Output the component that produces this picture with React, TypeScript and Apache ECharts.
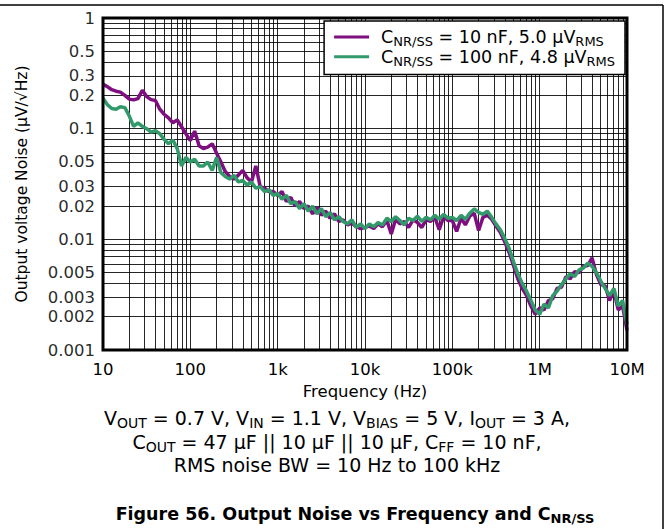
import { useEffect, useRef } from 'react';
import * as echarts from 'echarts';

const FONT = '"DejaVu Sans", "Liberation Sans", Arial, sans-serif';
const PURPLE = '#7f0f80';
const GREEN = '#31996a';

const frequencies = [
  10, 11.2, 12.6, 14.1, 15.8, 17.8, 20, 22.4, 25.1, 28.2, 31.6, 35.5, 39.8, 44.7, 50.1, 56.2, 63.1, 70.8, 79.4, 89.1,
  100, 112, 126, 141, 158, 178, 200, 224, 251, 282, 316, 355, 398, 447, 501, 562, 631, 708, 794, 891,
  1000, 1120, 1260, 1410, 1580, 1780, 2000, 2240, 2510, 2820, 3160, 3550, 3980, 4470, 5010, 5620, 6310, 7080, 7940, 8910,
  10000, 11200, 12600, 14100, 15800, 17800, 20000, 22400, 25100, 28200, 31600, 35500, 39800, 44700, 50100, 56200, 63100, 70800, 79400, 89100,
  100000, 112000, 126000, 141000, 158000, 178000, 200000, 224000, 251000, 282000, 316000, 355000, 398000, 447000, 501000, 562000, 631000, 708000, 794000, 891000,
  1000000, 1120000, 1260000, 1410000, 1580000, 1780000, 2000000, 2240000, 2510000, 2820000, 3160000, 3550000, 3980000, 4470000, 5010000, 5620000, 6310000, 7080000, 7940000, 8910000, 10000000,
];

// C_NR/SS = 10 nF (µV/√Hz)
const noise10nF = [
  0.252, 0.24, 0.225, 0.218, 0.214, 0.2, 0.185, 0.182, 0.187, 0.222, 0.195, 0.183, 0.18, 0.15, 0.135, 0.125, 0.113, 0.12, 0.104, 0.09,
  0.078, 0.095, 0.07, 0.066, 0.068, 0.073, 0.06, 0.05, 0.041, 0.037, 0.035, 0.038, 0.042, 0.036, 0.033, 0.046, 0.03, 0.029, 0.027, 0.027,
  0.025, 0.027, 0.022, 0.024, 0.02, 0.022, 0.019, 0.02, 0.017, 0.0195, 0.0165, 0.018, 0.0155, 0.017, 0.0145, 0.015, 0.0135, 0.014, 0.013, 0.0125,
  0.0128, 0.0132, 0.0125, 0.0138, 0.013, 0.0148, 0.0112, 0.0152, 0.0138, 0.0145, 0.0128, 0.015, 0.0142, 0.0128, 0.015, 0.0145, 0.0158, 0.0122, 0.016, 0.0148,
  0.0148, 0.0118, 0.0155, 0.0135, 0.0162, 0.0172, 0.012, 0.0158, 0.0165, 0.0152, 0.0132, 0.0115, 0.0095, 0.0076, 0.0058, 0.0044, 0.0036, 0.0031, 0.0025, 0.0021,
  0.0024, 0.0023, 0.0028, 0.0029, 0.0036, 0.0037, 0.0046, 0.0044, 0.0051, 0.005, 0.0057, 0.0058, 0.0068, 0.0048, 0.0039, 0.0038, 0.0028, 0.0034, 0.0023, 0.0025, 0.0015,
];

// C_NR/SS = 100 nF (µV/√Hz)
const noise100nF = [
  0.188, 0.165, 0.152, 0.15, 0.158, 0.155, 0.13, 0.105, 0.113, 0.105, 0.1, 0.093, 0.096, 0.09, 0.08, 0.073, 0.079, 0.066, 0.046, 0.055,
  0.05, 0.053, 0.046, 0.046, 0.05, 0.042, 0.055, 0.04, 0.037, 0.035, 0.038, 0.033, 0.034, 0.031, 0.033, 0.029, 0.03, 0.027, 0.028, 0.025,
  0.026, 0.023, 0.025, 0.021, 0.022, 0.019, 0.021, 0.018, 0.02, 0.017, 0.019, 0.016, 0.0175, 0.015, 0.016, 0.0145, 0.0138, 0.015, 0.0128, 0.0138,
  0.0125, 0.0138, 0.013, 0.0142, 0.0135, 0.0155, 0.0145, 0.016, 0.0148, 0.0135, 0.0155, 0.0148, 0.0162, 0.0145, 0.0158, 0.015, 0.0165, 0.0152, 0.0168, 0.0155,
  0.0158, 0.0148, 0.0165, 0.0152, 0.0172, 0.0188, 0.0175, 0.0168, 0.018, 0.0158, 0.0138, 0.0122, 0.0102, 0.0083, 0.0063, 0.0049, 0.004, 0.0034, 0.0028, 0.0023,
  0.0021, 0.0026, 0.0024, 0.0031, 0.0034, 0.0039, 0.0044, 0.0049, 0.0046, 0.0053, 0.0055, 0.0061, 0.0057, 0.005, 0.0042, 0.0036, 0.0031, 0.0036, 0.0025, 0.0028, 0.0017,
];

const seriesNames = ['CNR/SS = 10 nF, 5.0 µVRMS', 'CNR/SS = 100 nF, 4.8 µVRMS'];
const legendRich = [
  '{m|C}{s|NR/SS}{m| = 10 nF, 5.0 µV}{s|RMS}',
  '{m|C}{s|NR/SS}{m| = 100 nF, 4.8 µV}{s|RMS}',
];

const xTickValues = [10, 100, 1000, 10000, 100000, 1000000, 10000000];
const xTickLabels = ['10', '100', '1k', '10k', '100k', '1M', '10M'];
const yTickValues = [1, 0.5, 0.3, 0.2, 0.1, 0.05, 0.03, 0.02, 0.01, 0.005, 0.003, 0.002, 0.001];
const yTickLabels = ['1', '0.5', '0.3', '0.2', '0.1', '0.05', '0.03', '0.02', '0.01', '0.005', '0.003', '0.002', '0.001'];

const xGridValues = [
  20, 30, 40, 50, 60, 70, 80, 90, 100,
  200, 300, 400, 500, 600, 700, 800, 900, 1000,
  2000, 3000, 4000, 5000, 6000, 7000, 8000, 9000, 10000,
  20000, 30000, 40000, 50000, 60000, 70000, 80000, 90000, 100000,
  200000, 300000, 400000, 500000, 600000, 700000, 800000, 900000, 1000000,
  2000000, 3000000, 4000000, 5000000, 6000000, 7000000, 8000000, 9000000,
];
const yGridValues = [
  0.001, 0.002, 0.003, 0.004, 0.005, 0.006, 0.007, 0.008, 0.009,
  0.01, 0.02, 0.03, 0.04, 0.05, 0.06, 0.07, 0.08, 0.09,
  0.1, 0.2, 0.3, 0.4, 0.5, 0.6, 0.7, 0.8, 0.9, 1,
];

const conditionLines = [
  '{m|V}{s|OUT}{m| = 0.7 V, V}{s|IN}{m| = 1.1 V, V}{s|BIAS}{m| = 5 V, I}{s|OUT}{m| = 3 A,}',
  '{m|C}{s|OUT}{m| = 47 µF || 10 µF || 10 µF, C}{s|FF}{m| = 10 nF,}',
  '{m|RMS noise BW = 10 Hz to 100 kHz}',
];
const captionText = '{m|Figure 56. Output Noise vs Frequency and C}{s|NR/SS}';

const GRID = { left: 103, top: 18, width: 524, height: 332 };

function makeRich(main: number, sub: number, bold: boolean) {
  const w = bold ? 'bold' : 'normal';
  return {
    m: { fontSize: main, lineHeight: main + 4, fontFamily: FONT, fontWeight: w, color: '#000', fill: '#000' },
    s: { fontSize: sub, lineHeight: sub, fontFamily: FONT, fontWeight: w, color: '#000', fill: '#000', verticalAlign: 'bottom' },
  };
}
const richLegend = makeRich(17.5, 13, false);
const richCond = makeRich(19, 14, false);
const richCaption = makeRich(17.5, 13, true);

function near(a: number, b: number) {
  return Math.abs(Math.log10(a) - Math.log10(b)) < 1e-6;
}

export default function App() {
  const ref = useRef<HTMLDivElement>(null);
  useEffect(() => {
    const chart = echarts.init(ref.current!, null, { renderer: 'svg' });
    const purpleData = frequencies.map((f, i) => [f, noise10nF[i]]);
    const greenData = frequencies.map((f, i) => [f, noise100nF[i]]);
    const gridLineData: any[] = [
      ...xGridValues.map((v) => ({ xAxis: v })),
      ...yGridValues.map((v) => {
        const i = yTickValues.findIndex((t) => near(t, v));
        return i >= 0
          ? { yAxis: v, label: { show: true, formatter: yTickLabels[i] } }
          : { yAxis: v };
      }),
    ];

    const textEl = (y: number, x: number, text: string, rich: any) => ({
      type: 'text',
      x,
      y,
      z: 20,
      style: {
        text,
        rich,
        fill: '#000',
        align: 'center',
        verticalAlign: 'middle',
        textAlign: 'center',
        textVerticalAlign: 'middle',
        fontFamily: FONT,
        fontSize: 16,
      },
    });

    chart.setOption({
      animation: false,
      backgroundColor: '#fff',
      grid: { ...GRID, containLabel: false },
      xAxis: {
        type: 'log',
        logBase: 10,
        min: 10,
        max: 10000000,
        name: 'Frequency (Hz)',
        nameLocation: 'middle',
        nameGap: 27,
        nameTextStyle: { fontSize: 16.5, fontFamily: FONT, color: '#000' },
        axisLine: { show: false },
        axisTick: { show: false },
        splitLine: { show: false },
        minorSplitLine: { show: false },
        axisLabel: {
          show: true,
          margin: 11,
          fontSize: 16.5,
          fontFamily: FONT,
          color: '#000',
          showMinLabel: true,
          showMaxLabel: true,
          formatter: (v: number) => {
            const i = xTickValues.findIndex((t) => near(t, v));
            return i >= 0 ? xTickLabels[i] : '';
          },
        },
      },
      yAxis: {
        type: 'log',
        logBase: 10,
        min: 0.001,
        max: 1,
        name: 'Output voltage Noise (µV/√Hz)',
        nameLocation: 'middle',
        nameGap: 73,
        nameRotate: 90,
        nameTextStyle: { fontSize: 15.5, fontFamily: FONT, color: '#000' },
        axisLine: { show: false },
        axisTick: { show: false },
        axisLabel: { show: false },
        splitLine: { show: false },
      },
      legend: {
        data: seriesNames,
        orient: 'vertical',
        right: 44,
        top: 21,
        z: 10,
        backgroundColor: '#fff',
        borderColor: '#000',
        borderWidth: 1.5,
        borderRadius: 0,
        padding: [7, 10, 7, 10],
        itemGap: 0,
        itemWidth: 35,
        itemHeight: 3,
        icon: 'rect',
        selectedMode: false,
        formatter: (name: string) => legendRich[seriesNames.indexOf(name)],
        textStyle: { color: '#000', padding: [0, 0, 0, 7], rich: richLegend },
      },
      graphic: [
        {
          type: 'rect',
          z: 30,
          silent: true,
          shape: { x: GRID.left, y: GRID.top, width: GRID.width, height: GRID.height },
          style: { fill: 'none', stroke: '#000', lineWidth: 3 },
        },
        {
          type: 'line',
          z: 30,
          silent: true,
          shape: { x1: 0, y1: 5, x2: 663, y2: 5 },
          style: { stroke: '#000', lineWidth: 1.5 },
        },
        {
          type: 'line',
          z: 30,
          silent: true,
          shape: { x1: 663, y1: 5, x2: 663, y2: 529 },
          style: { stroke: '#000', lineWidth: 1.5 },
        },
        textEl(418, 337, conditionLines[0], richCond),
        textEl(442, 337, conditionLines[1], richCond),
        textEl(465, 337, conditionLines[2], richCond),
        textEl(514, 355, captionText, richCaption),
      ],
      series: [
        {
          name: 'grid',
          type: 'line',
          data: [],
          z: 1,
          silent: true,
          markLine: {
            silent: true,
            z: 1,
            precision: 8,
            symbol: ['none', 'none'],
            animation: false,
            lineStyle: { color: '#000', width: 1, type: 'solid', opacity: 0.85 },
            emphasis: { disabled: true },
            label: {
              show: false,
              position: 'start',
              distance: 8,
              color: '#000',
              fontSize: 16.5,
              fontFamily: FONT,
            },
            data: gridLineData,
          },
        },
        {
          name: seriesNames[0],
          type: 'line',
          data: purpleData,
          z: 3,
          symbol: 'none',
          showSymbol: false,
          lineStyle: { color: PURPLE, width: 3.5 },
          itemStyle: { color: PURPLE },
        },
        {
          name: seriesNames[1],
          type: 'line',
          data: greenData,
          z: 4,
          symbol: 'none',
          showSymbol: false,
          lineStyle: { color: GREEN, width: 3.5 },
          itemStyle: { color: GREEN },
        },
      ],
    });
    return () => chart.dispose();
  }, []);
  return (
    <div
      ref={ref}
      style={{ position: 'fixed', left: 0, top: 0, width: 669, height: 529, background: '#fff' }}
    />
  );
}
